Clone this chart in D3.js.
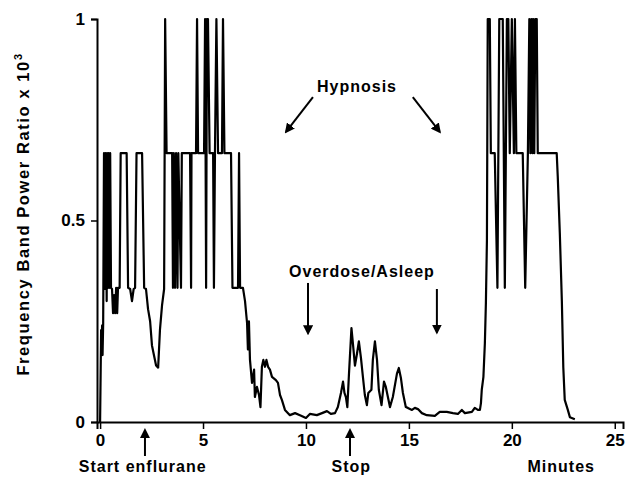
<!DOCTYPE html>
<html>
<head>
<meta charset="utf-8">
<script src="https://cdn.jsdelivr.net/npm/d3@7"></script>
<style>
  body { margin: 0; background: #fff; }
  text { font-family: "Liberation Sans", Arial, sans-serif; font-weight: bold; fill: #000; }
</style>
</head>
<body>
<script>
// time in minutes and band power ratio (x 10^3)
var minutes = [0, 0.05, 0.07, 0.1, 0.12, 0.15, 0.19, 0.24, 0.27, 0.32, 0.34, 0.39, 0.41, 0.46, 0.49, 0.53,
  0.58, 0.63, 0.68, 0.73, 0.78, 0.83, 0.87, 0.95, 1.0, 1.29, 1.36, 1.46, 1.55, 1.63, 1.70, 1.77, 2.04,
  2.14, 2.23, 2.33, 2.43, 2.52, 2.62, 2.72, 2.82, 2.91, 3.01, 3.11, 3.16, 3.23, 3.50,
  3.54, 3.58, 3.64, 3.69, 3.76, 3.80, 3.93, 3.97, 4.37, 4.42, 4.44,
  4.66, 4.71, 4.76, 5.05, 5.10, 5.15, 5.19, 5.24, 5.32, 5.49, 5.53, 5.58, 5.65, 5.73, 5.92, 5.97, 6.04,
  6.36, 6.43, 6.70, 6.75, 6.80, 6.94, 7.04, 7.14, 7.18, 7.23, 7.28, 7.38, 7.48, 7.52, 7.62, 7.72, 7.79,
  7.86, 7.93, 8.01, 8.08, 8.16, 8.25, 8.35, 8.54, 8.64, 8.74, 8.83, 8.98, 9.22, 9.47, 9.71, 10.0, 10.19,
  10.53, 10.78, 11.02, 11.21, 11.41, 11.55, 11.70, 11.80, 11.87, 11.94, 12.01, 12.09, 12.21, 12.28, 12.38,
  12.48, 12.57, 12.67, 12.77, 12.86, 12.96, 13.03, 13.18, 13.25, 13.35, 13.45, 13.54, 13.67, 13.79, 13.88,
  13.98, 14.08, 14.22, 14.42, 14.51, 14.61, 14.71, 14.85, 14.95, 15.15, 15.29, 15.44, 15.63, 15.87, 16.26,
  16.50, 16.84, 17.14, 17.38, 17.57, 17.72, 18.06, 18.20, 18.35, 18.45, 18.50, 18.54, 18.62, 18.69, 18.74,
  18.79, 18.83, 18.93, 18.98, 19.17, 19.30, 19.39, 19.56, 19.66, 19.76, 19.83, 19.90, 20.0, 20.10, 20.15,
  20.22, 20.53, 20.65, 20.78, 20.85, 20.90, 20.95, 21.0, 21.04, 21.09, 21.14, 21.21, 21.26, 22.18, 22.23,
  22.33, 22.43, 22.50, 22.57, 22.72, 22.82, 23.06];
var ratio = [0, 0.228, 0.19, 0.24, 0.166, 0.245, 0.667, 0.33, 0.667, 0.30, 0.667, 0.333, 0.667, 0.333, 0.667, 0.333,
  0.33, 0.27, 0.315, 0.27, 0.333, 0.27, 0.333, 0.333, 0.667, 0.667, 0.333, 0.33, 0.30, 0.33, 0.333, 0.667, 0.667,
  0.333, 0.33, 0.28, 0.25, 0.19, 0.165, 0.14, 0.135, 0.23, 0.29, 0.33, 1.0, 0.667, 0.667,
  0.333, 0.667, 0.333, 0.667, 0.333, 0.667, 0.333, 0.667, 0.667, 0.333, 0.667,
  0.667, 1.0, 0.667, 0.667, 1.0, 0.333, 1.0, 1.0, 0.667, 0.667, 0.333, 0.667, 1.0, 0.667, 0.667, 1.0, 0.667,
  0.667, 0.333, 0.333, 0.667, 0.333, 0.333, 0.30, 0.245, 0.18, 0.25, 0.155, 0.097, 0.13, 0.062, 0.087, 0.067, 0.037,
  0.137, 0.154, 0.137, 0.154, 0.137, 0.13, 0.112, 0.104, 0.097, 0.067, 0.055, 0.03, 0.017, 0.022, 0.017, 0.01, 0.02,
  0.017, 0.022, 0.027, 0.02, 0.022, 0.037, 0.072, 0.10, 0.072, 0.062, 0.037, 0.12, 0.233, 0.195, 0.14,
  0.17, 0.20, 0.16, 0.11, 0.067, 0.042, 0.072, 0.08, 0.155, 0.20, 0.155, 0.08, 0.042, 0.10, 0.087,
  0.062, 0.037, 0.062, 0.12, 0.134, 0.11, 0.072, 0.037, 0.035, 0.03, 0.035, 0.032, 0.022, 0.017, 0.015,
  0.025, 0.025, 0.022, 0.02, 0.03, 0.022, 0.025, 0.035, 0.03, 0.03, 0.047, 0.08, 0.112, 0.195, 0.295,
  0.45, 1.0, 1.0, 0.667, 0.667, 0.333, 1.0, 1.0, 0.333, 1.0, 1.0, 0.667, 1.0, 0.667, 1.0,
  0.667, 0.667, 0.333, 0.667, 1.0, 0.667, 1.0, 0.667, 1.0, 0.667, 1.0, 1.0, 0.667, 0.667, 0.61,
  0.47, 0.30, 0.136, 0.055, 0.03, 0.012, 0.007];

var xTicks = [0, 5, 10, 15, 20, 25];
var yTicks = [0, 0.5, 1];
var yTickLabels = ["0", "0.5", "1"];

var width = 627, height = 494;

var svg = d3.select("body").append("svg")
    .attr("width", width)
    .attr("height", height);

// set the ranges
var x = d3.scaleLinear().domain([-0.15, 25.4]).range([97, 623]);
var y = d3.scaleLinear().domain([0, 1]).range([422, 19]);

var data = minutes.map(function(t, i) { return {t: t, v: ratio[i]}; });

// arrow head
svg.append("defs").append("marker")
    .attr("id", "head")
    .attr("viewBox", "0 0 10 10")
    .attr("refX", 8).attr("refY", 5)
    .attr("markerWidth", 5).attr("markerHeight", 5)
    .attr("markerUnits", "strokeWidth")
    .attr("orient", "auto")
  .append("path")
    .attr("d", "M0,0 L10,5 L0,10 Z")
    .attr("fill", "#000");

// the trace
var valueline = d3.line()
    .x(function(d) { return x(d.t); })
    .y(function(d) { return y(d.v); });

svg.append("path")
    .datum(data)
    .attr("d", valueline)
    .style("fill", "none")
    .style("stroke", "#000")
    .style("stroke-width", 2.2)
    .style("stroke-linejoin", "round");

// X axis
var xAxis = svg.append("g")
    .attr("transform", "translate(0," + y(0) + ")")
    .call(d3.axisBottom(x).tickValues(xTicks).tickSize(7).tickPadding(5).tickFormat(d3.format("d")));

// Y axis
var yAxis = svg.append("g")
    .attr("transform", "translate(" + x(-0.15) + ",0)")
    .call(d3.axisLeft(y).tickValues(yTicks).tickSize(6).tickPadding(6)
      .tickFormat(function(d, i) { return yTickLabels[i]; }));

[xAxis, yAxis].forEach(function(g) {
  g.select(".domain").attr("stroke", "#000").attr("stroke-width", 2);
  g.selectAll(".tick line").attr("stroke", "#000").attr("stroke-width", 1.5);
  g.selectAll(".tick text")
      .style("font-family", "'Liberation Sans', Arial, sans-serif")
      .style("font-weight", "bold")
      .style("font-size", "17px")
      .attr("fill", "#000");
});

// y axis title
svg.append("text")
    .attr("transform", "translate(29,214) rotate(-90)")
    .attr("text-anchor", "middle")
    .style("font-size", "16.5px")
    .style("letter-spacing", "1.6px")
    .text("Frequency Band Power Ratio x 10")
  .append("tspan")
    .attr("dy", -7)
    .style("font-size", "11px")
    .text("3");

// annotations
function label(txt, px, py) {
  svg.append("text")
      .attr("x", px).attr("y", py)
      .attr("text-anchor", "middle")
      .style("font-size", "16px")
      .style("letter-spacing", "1px")
      .text(txt);
}
function arrow(x1, y1, x2, y2) {
  svg.append("line")
      .attr("x1", x1).attr("y1", y1).attr("x2", x2).attr("y2", y2)
      .attr("stroke", "#000").attr("stroke-width", 2)
      .attr("marker-end", "url(#head)");
}

label("Hypnosis", x(12.48), y(0.82));
arrow(x(10.34), y(0.806), x(9.03), y(0.72));
arrow(x(15.19), y(0.806), x(16.5), y(0.72));

label("Overdose/Asleep", x(12.72), y(0.36));
arrow(x(10.1), y(0.345), x(10.1), y(0.22));
arrow(x(16.36), y(0.33), x(16.36), y(0.222));

label("Start enflurane", x(2.07), 472);
arrow(x(2.18), 456, x(2.18), 430);
label("Stop", x(12.2), 472);
arrow(x(12.14), 456, x(12.14), 430);
label("Minutes", x(22.4), 472);
</script>
</body>
</html>
